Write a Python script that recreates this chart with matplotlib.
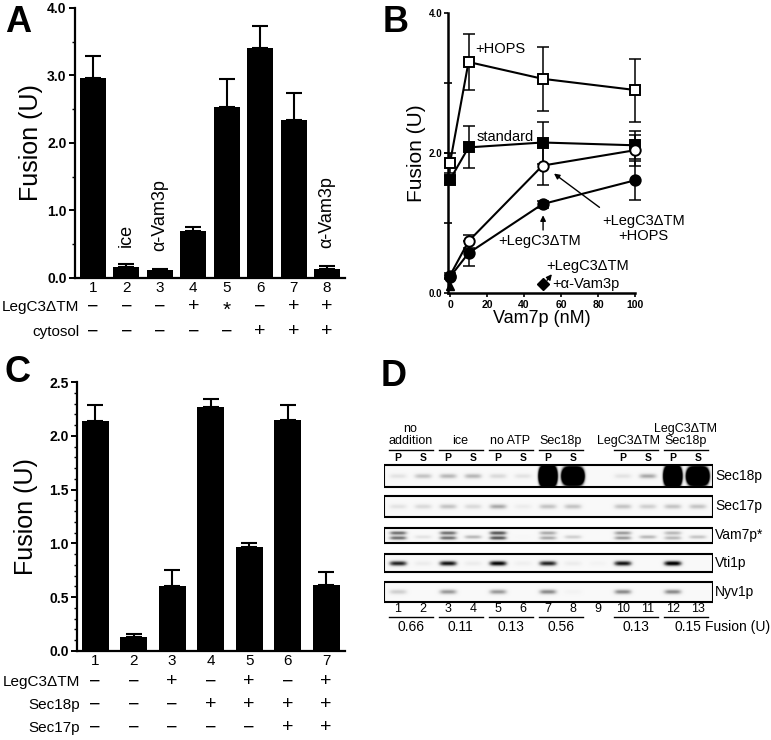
import numpy as np
import matplotlib
matplotlib.use('Agg')
from matplotlib import pyplot as plt
from matplotlib.transforms import blended_transform_factory
from matplotlib.patches import Rectangle

plt.rcParams['font.family'] = ['Liberation Sans', 'DejaVu Sans']

W, H = 771, 740
MINUS = '\u2212'

# ---- panel A data
lanes_a = [1, 2, 3, 4, 5, 6, 7, 8]
fusion_a = [2.97, 0.17, 0.12, 0.69, 2.54, 3.40, 2.34, 0.14]
err_a = [0.32, 0.03, 0.02, 0.07, 0.41, 0.34, 0.40, 0.04]
legc3_a = [MINUS, MINUS, MINUS, '+', '*', MINUS, '+', '+']
cytosol_a = [MINUS, MINUS, MINUS, MINUS, MINUS, '+', '+', '+']
notes_a = {2: 'ice', 3: '\u03b1-Vam3p', 8: '\u03b1-Vam3p'}

# ---- panel B data
vam7p_nm = [0, 10, 50, 100]
hops = [1.86, 3.30, 3.06, 2.90]
hops_err = [0.14, 0.40, 0.46, 0.45]
standard = [1.62, 2.08, 2.15, 2.11]
standard_err = [0.05, 0.30, 0.30, 0.20]
legc3_hops = [0.25, 0.74, 1.82, 2.04]
legc3_hops_err = [0.03, 0.09, 0.28, 0.22]
legc3 = [0.23, 0.57, 1.27, 1.61]
legc3_err = [0.03, 0.18, 0.05, 0.28]
avam3_tri_x, avam3_tri_y = [0], [0.10]
avam3_dia_x, avam3_dia_y = [50], [0.13]

# ---- panel C data
lanes_c = [1, 2, 3, 4, 5, 6, 7]
fusion_c = [2.14, 0.13, 0.60, 2.27, 0.97, 2.15, 0.61]
err_c = [0.15, 0.03, 0.15, 0.07, 0.03, 0.14, 0.12]
legc3_c = [MINUS, MINUS, '+', MINUS, '+', MINUS, '+']
sec18_c = [MINUS, MINUS, MINUS, '+', '+', '+', '+']
sec17_c = [MINUS, MINUS, MINUS, MINUS, MINUS, '+', '+']

# ---- panel D data (band intensity per lane 1..13)
lanes_d = list(range(1, 14))
blot_rows = ['Sec18p', 'Sec17p', 'Vam7p*', 'Vti1p', 'Nyv1p']
sec18_band = [0.15, 0.3, 0.35, 0.35, 0.2, 0.15, 9.0, 8.0, 0.0, 0.15, 0.4, 9.0, 9.0]
sec17_band = [0.15, 0.2, 0.3, 0.2, 0.4, 0.1, 0.3, 0.3, 0.0, 0.3, 0.25, 0.3, 0.3]
vam7_band = [0.6, 0.15, 0.6, 0.35, 0.7, 0.02, 0.4, 0.25, 0.0, 0.45, 0.35, 0.35, 0.3]
vti1_band = [0.85, 0.1, 0.9, 0.1, 0.95, 0.08, 0.85, 0.1, 0.05, 0.9, 0.0, 1.0, 0.0]
nyv1_band = [0.25, 0.0, 0.45, 0.0, 0.45, 0.0, 0.5, 0.05, 0.0, 0.5, 0.0, 0.5, 0.0]
pellet_sup = ['P', 'S', 'P', 'S', 'P', 'S', 'P', 'S', '', 'P', 'S', 'P', 'S']
groups_d = [('no\naddition', 1, 2), ('ice', 3, 4), ('no ATP', 5, 6),
            ('Sec18p', 7, 8), ('LegC3\u0394TM', 10, 11), ('LegC3\u0394TM\nSec18p', 12, 13)]
fusion_d = ['0.66', '0.11', '0.13', '0.56', '0.13', '0.15']


def px_axes(fig, x0, y0, x1, y1):
    return fig.add_axes([x0 / W, 1 - y1 / H, (x1 - x0) / W, (y1 - y0) / H])


def style_axes(ax, lw=1.6):
    for s in ['top', 'right']:
        ax.spines[s].set_visible(False)
    for s in ['left', 'bottom']:
        ax.spines[s].set_linewidth(lw)


def bar_panel(ax, lanes, vals, errs, ymax, major, minor, width, ylab_pad):
    ax.bar(lanes, vals, width=width, color='black', zorder=2)
    ax.errorbar(lanes, vals, yerr=[[0] * len(vals), errs], fmt='none',
                ecolor='black', elinewidth=1.5, capsize=6, capthick=1.5, zorder=1)
    ax.set_ylim(0, ymax)
    ax.set_yticks(major)
    ax.set_yticklabels([f'{v:.1f}' for v in major], fontweight='bold', fontsize=10)
    ax.set_yticks(minor, minor=True)
    ax.tick_params(axis='y', which='major', length=4, width=1.4, pad=2)
    ax.tick_params(axis='y', which='minor', length=2, width=1.0)
    ax.set_xticks(lanes)
    ax.set_xticklabels([str(l) for l in lanes], fontsize=11)
    ax.tick_params(axis='x', length=0, pad=2)
    ax.set_ylabel('Fusion (U)', fontsize=18, labelpad=ylab_pad)
    style_axes(ax)


def sign_rows(ax, lanes, rows, ys, label_x):
    tr = blended_transform_factory(ax.transData, ax.transAxes)
    for (name, signs), y in zip(rows, ys):
        ax.text(label_x, y, name, transform=ax.transAxes, ha='right', va='center', fontsize=11)
        for l, s in zip(lanes, signs):
            fs = 15 if s == '*' else 14
            yy = y - 0.012 if s == '*' else y
            ax.text(l, yy, s, transform=tr, ha='center', va='center', fontsize=fs)


fig = plt.figure(figsize=(W / 100, H / 100), dpi=100)

# ================= A
ax_a = px_axes(fig, 75, 8, 345, 278)
ax_a.set_xlim(0.46, 8.54)
bar_panel(ax_a, lanes_a, fusion_a, err_a, 4.0, [0, 1, 2, 3, 4],
          [0.5, 1.5, 2.5, 3.5], 0.78, 3)
sign_rows(ax_a, lanes_a, [('LegC3\u0394TM', legc3_a), ('cytosol', cytosol_a)],
          [-0.107, -0.2], 0.017)
for lane, txt in notes_a.items():
    ax_a.text(lane, fusion_a[lane - 1] + err_a[lane - 1] + 0.26, txt, rotation=90,
              ha='center', va='bottom', fontsize=13)

# ================= B
ax_b = px_axes(fig, 448, 13, 635, 293)
ax_b.set_xlim(-1.1, 100)
ax_b.set_ylim(0, 4)
style_axes(ax_b, 1.8)
series_b = [(hops, hops_err, 's', 'white'), (standard, standard_err, 's', 'black'),
            (legc3_hops, legc3_hops_err, 'o', 'white'), (legc3, legc3_err, 'o', 'black')]
for vals, errs, mk, fc in series_b:
    ax_b.errorbar(vam7p_nm, vals, yerr=errs, fmt='none', ecolor='black',
                  elinewidth=1.1, capsize=4.5, capthick=1.1, clip_on=False, zorder=2)
for vals, errs, mk, fc in series_b:
    ax_b.plot(vam7p_nm, vals, color='black', lw=1.5, marker=mk, ms=7.5,
              mfc=fc, mec='black', mew=1.4, clip_on=False, zorder=3)
ax_b.plot(avam3_tri_x, avam3_tri_y, linestyle='none', marker='^', ms=6,
          color='black', clip_on=False, zorder=3)
ax_b.plot(avam3_dia_x, avam3_dia_y, linestyle='none', marker='D', ms=6,
          color='black', clip_on=False, zorder=3)
ax_b.set_xticks([0, 20, 40, 60, 80, 100])
ax_b.set_xticklabels(['0', '20', '40', '60', '80', '100'], fontweight='bold', fontsize=7.5)
ax_b.set_yticks([0, 2, 4])
ax_b.set_yticklabels(['0.0', '2.0', '4.0'], fontweight='bold', fontsize=7)
ax_b.set_yticks([1, 3], minor=True)
ax_b.tick_params(axis='y', which='major', length=3, width=1.2, pad=1)
ax_b.tick_params(axis='y', which='minor', length=6, width=1.2, direction='inout')
ax_b.tick_params(axis='x', length=3, width=1.2, pad=2)
ax_b.set_ylabel('Fusion (U)', fontsize=15, labelpad=2)
ax_b.set_xlabel('Vam7p (nM)', fontsize=13, labelpad=0)
ax_b.text(13.5, 3.48, '+HOPS', fontsize=10.5, ha='left', va='center')
ax_b.text(14.5, 2.23, 'standard', fontsize=10.5, ha='left', va='center')
ax_b.text(104.5, 0.92, '+LegC3\u0394TM\n+HOPS', fontsize=10.5, ha='center', va='center',
          linespacing=1.1)
ax_b.annotate('', xy=(55, 1.73), xytext=(82, 1.2),
              arrowprops=dict(arrowstyle='-|>', color='black', lw=1.0, mutation_scale=8))
ax_b.text(48.6, 0.74, '+LegC3\u0394TM', fontsize=10.5, ha='center', va='center')
ax_b.annotate('', xy=(50.3, 1.15), xytext=(50.3, 0.86),
              arrowprops=dict(arrowstyle='-|>', color='black', lw=1.0, mutation_scale=8))
ax_b.text(52, 0.38, '+LegC3\u0394TM', fontsize=10.5, ha='left', va='center')
ax_b.text(55.5, 0.13, '+\u03b1-Vam3p', fontsize=10.5, ha='left', va='center')
ax_b.annotate('', xy=(56, 0.3), xytext=(51.5, 0.15),
              arrowprops=dict(arrowstyle='-|>', color='black', lw=1.0, mutation_scale=8))

# ================= C
ax_c = px_axes(fig, 77, 382, 345, 651)
ax_c.set_xlim(0.53, 7.49)
bar_panel(ax_c, lanes_c, fusion_c, err_c, 2.5, [0, 0.5, 1.0, 1.5, 2.0, 2.5],
          np.arange(0.1, 2.5, 0.1), 0.7, 8)
sign_rows(ax_c, lanes_c, [('LegC3\u0394TM', legc3_c), ('Sec18p', sec18_c),
                          ('Sec17p', sec17_c)], [-0.115, -0.2, -0.286], 0.01)

# ================= D
ax_d = px_axes(fig, 384, 420, 713, 640)
ax_d.set_xlim(0.44, 13.6)
ax_d.set_ylim(640, 420)
ax_d.axis('off')
row_boxes = [(465, 487), (496, 517), (528, 543), (554, 572), (582, 602)]
row_bands = [sec18_band, sec17_band, vam7_band, vti1_band, nyv1_band]
gx = np.linspace(0.44, 13.6, 700)
gy = np.linspace(420, 640, 440)
XX, YY = np.meshgrid(gx, gy)
img = np.full(XX.shape, np.nan)
for r, ((top, bot), bands) in enumerate(zip(row_boxes, row_bands)):
    inside = (YY >= top) & (YY <= bot) & (XX >= 0.44) & (XX <= 13.6)
    dens = np.full(XX.shape, 0.05)
    yc = (top + bot) / 2
    for lane, inten, ps in zip(lanes_d, bands, pellet_sup):
        if r == 2:
            offs = [-2.5, 2.5] if ps == 'P' else [1.5]
            sy = 2.0
        else:
            offs = [0.5 if r == 3 else 0]
            sy = 2.6
        sx = 0.36
        if inten > 1:
            sy = 6.5 if ps == 'S' else 7.5
            sx = 0.38 if ps == 'S' else 0.31
        for off in offs:
            dens += inten * np.exp(-((XX - lane) / sx) ** 4 - ((YY - yc - off) / sy) ** 2)
    img[inside] = np.clip(dens[inside], 0, 1)
cmap = plt.get_cmap('Greys').copy()
cmap.set_bad(alpha=0)
ax_d.imshow(img, extent=(gx[0], gx[-1], gy[-1], gy[0]), cmap=cmap, vmin=0, vmax=1,
            aspect='auto', interpolation='bilinear', zorder=1)
for (top, bot), name in zip(row_boxes, blot_rows):
    ax_d.add_patch(Rectangle((0.44, top), 13.6 - 0.44, bot - top, fill=False,
                             edgecolor='black', lw=1.5, zorder=3))
    ax_d.text(13.68, (top + bot) / 2, name, ha='left', va='center', fontsize=10,
              clip_on=False)
for lane, lab in zip(lanes_d, pellet_sup):
    ax_d.text(lane, 458, lab, ha='center', va='center', fontsize=7.5, fontweight='bold')
    ax_d.text(lane, 609, str(lane), ha='center', va='center', fontsize=9)
for (name, l0, l1), fval in zip(groups_d, fusion_d):
    c = (l0 + l1) / 2
    ax_d.plot([c - 0.88, c + 0.88], [450, 450], color='black', lw=1.0)
    ax_d.plot([c - 0.88, c + 0.88], [617, 617], color='black', lw=1.0)
    tx = c - 0.3 if l0 == 10 else c
    ax_d.text(tx, 447, name, ha='center', va='bottom', fontsize=9, linespacing=1.0)
    ax_d.text(c + (0.1 if l0 == 12 else 0), 627, fval, ha='center', va='center', fontsize=10)
ax_d.text(13.28, 627, 'Fusion (U)', ha='left', va='center', fontsize=10, clip_on=False)

# ================= panel letters
for letter, x, y in [('A', 5, 5), ('B', 383, 5), ('C', 5, 355), ('D', 381, 359)]:
    fig.text(x / W, 1 - y / H, letter, fontsize=26, fontweight='bold', ha='left', va='top')

fig.savefig('out.png', dpi=100)
